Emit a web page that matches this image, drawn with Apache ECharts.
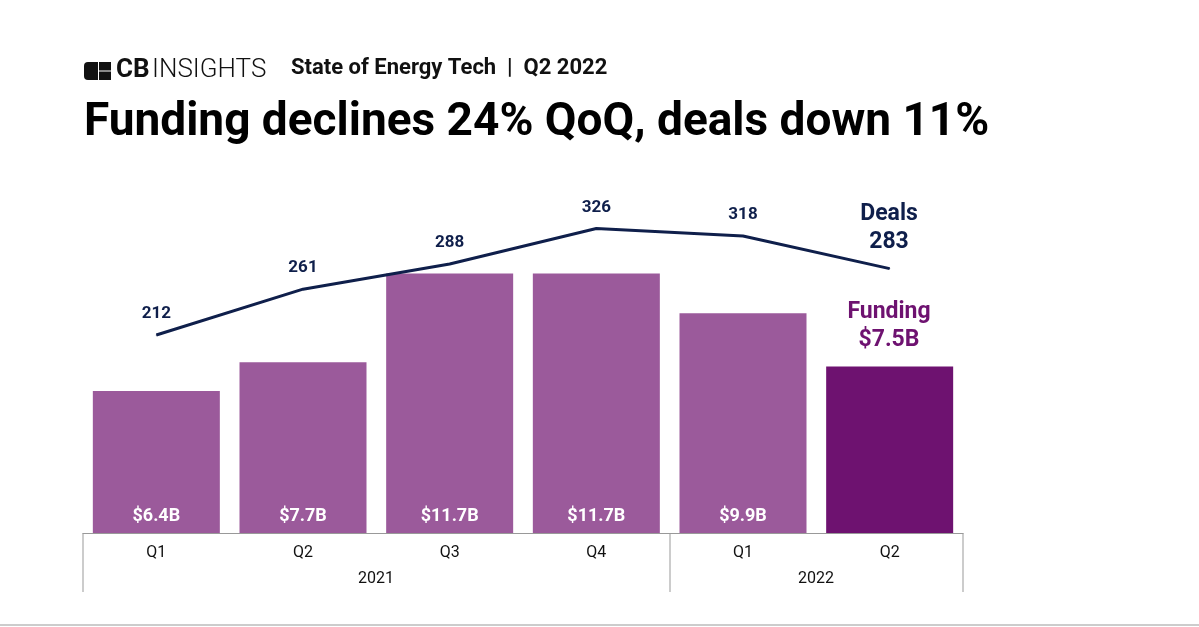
<!DOCTYPE html>
<html>
<head>
<meta charset="utf-8">
<script src="https://cdn.jsdelivr.net/npm/echarts@6/dist/echarts.min.js"></script>
<style>
html,body{margin:0;padding:0;background:#fff;}
#chart{width:1199px;height:627px;}
</style>
</head>
<body>
<div id="chart"></div>
<script>
// 数据
var quarters = ['Q1', 'Q2', 'Q3', 'Q4', 'Q1', 'Q2'];
var funding = [6.4, 7.7, 11.7, 11.7, 9.9, 7.5];
var deals = [212, 261, 288, 326, 318, 283];

var myChart = echarts.init(document.getElementById('chart'));

var navy = '#0f1f4b';
var purple = '#9b5a9b';
var dark = '#6e1270';

var option = {
    animation: false,
    textStyle: { fontFamily: 'Roboto' },
    graphic: [
        { type: 'group', left: 84, top: 62, children: [
            { type: 'rect', shape: { x: 0, y: 0, width: 14, height: 18, r: [4, 0, 0, 4] }, style: { fill: '#111' } },
            { type: 'rect', shape: { x: 15, y: 0, width: 12, height: 8.5 }, style: { fill: '#111' } },
            { type: 'rect', shape: { x: 15, y: 9.5, width: 12, height: 8.5 }, style: { fill: '#111' } }
        ]},
        { type: 'text', left: 116, top: 57, style: { text: 'CB', font: 'bold 26px Roboto', fill: '#111' } },
        { type: 'text', left: 152, top: 57, style: { text: 'INSIGHTS', font: '300 26px Roboto', fill: '#111' } },
        { type: 'text', left: 291, top: 57, style: { text: 'State of Energy Tech  |  Q2 2022', font: 'bold 22px Roboto', fill: '#111' } },
        { type: 'text', left: 84, top: 100, style: { text: 'Funding declines 24% QoQ, deals down 11%', font: 'bold 46px Roboto', fill: '#000' } },
        { type: 'line', shape: { x1: 83, y1: 533, x2: 83, y2: 592 }, style: { stroke: '#999', lineWidth: 1 } },
        { type: 'line', shape: { x1: 670, y1: 533, x2: 670, y2: 592 }, style: { stroke: '#999', lineWidth: 1 } },
        { type: 'line', shape: { x1: 963, y1: 533, x2: 963, y2: 592 }, style: { stroke: '#999', lineWidth: 1 } },
        { type: 'text', x: 376, y: 571, style: { text: '2021', font: '16px Roboto', fill: '#111', align: 'center' } },
        { type: 'text', x: 816, y: 571, style: { text: '2022', font: '16px Roboto', fill: '#111', align: 'center' } },
        { type: 'line', shape: { x1: 0, y1: 625, x2: 1199, y2: 625 }, style: { stroke: '#ccc', lineWidth: 2 } },
        { type: 'text', x: 889, y: 298, style: { text: 'Funding\n$7.5B', font: 'bold 23px Roboto', fill: dark, align: 'center', lineHeight: 28 } },
        { type: 'text', x: 889, y: 200, style: { text: 'Deals\n283', font: 'bold 23px Roboto', fill: navy, align: 'center', lineHeight: 28 } }
    ],
    grid: { left: 83, top: 178, width: 880, height: 355 },
    xAxis: {
        type: 'category',
        data: quarters,
        axisLine: { lineStyle: { color: '#999' } },
        axisTick: { show: false },
        axisLabel: { color: '#111', fontSize: 16, margin: 12 }
    },
    yAxis: [
        { type: 'value', min: 0, max: 16, show: false, splitLine: { show: false } },
        { type: 'value', min: 0, max: 380, show: false, splitLine: { show: false } }
    ],
    series: [
        {
            name: 'Funding',
            type: 'bar',
            barWidth: 127,
            data: funding.map(function (v, i) {
                return { value: v, itemStyle: { color: i === funding.length - 1 ? dark : purple } };
            }),
            label: {
                show: true,
                position: 'insideBottom',
                distance: 8,
                color: '#fff',
                fontWeight: 'bold',
                fontSize: 18,
                formatter: function (p) { return p.dataIndex === funding.length - 1 ? '' : '$' + p.value + 'B'; }
            }
        },
        {
            name: 'Deals',
            type: 'line',
            yAxisIndex: 1,
            data: deals,
            symbol: 'circle',
            symbolSize: 1,
            itemStyle: { color: navy },
            lineStyle: { color: navy, width: 3 },
            label: {
                show: true,
                position: 'top',
                distance: 12,
                color: navy,
                fontWeight: 'bold',
                fontSize: 17,
                formatter: function (p) { return p.dataIndex === deals.length - 1 ? '' : p.value; }
            }
        }
    ]
};

myChart.setOption(option);
</script>
</body>
</html>
